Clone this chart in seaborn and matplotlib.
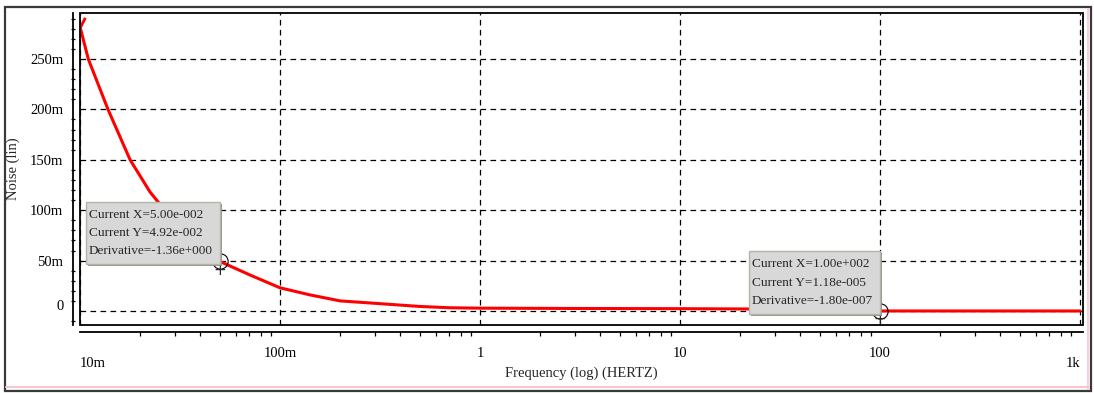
import matplotlib
matplotlib.use("Agg")
import matplotlib.pyplot as plt
import matplotlib.ticker as mticker
import matplotlib.transforms as mtransforms
import matplotlib.patheffects as pe
from matplotlib.patches import Rectangle
from matplotlib.lines import Line2D
from matplotlib.path import Path
import pandas as pd
import seaborn as sns

# Noise spectrum (linear units) against frequency in Hz
freq_hz = [0.01, 0.011, 0.0138, 0.0178, 0.0224, 0.033, 0.05, 0.0708, 0.1,
           0.141, 0.2, 0.28, 0.5, 0.708, 1.0, 3.0, 10.0, 22.0, 100.0, 1000.0]
noise_lin = [0.282, 0.250, 0.200, 0.150, 0.118, 0.077, 0.0492, 0.0357, 0.023,
             0.016, 0.010, 0.008, 0.0045, 0.0032, 0.0028, 0.0025, 0.0023,
             0.0020, 1.18e-5, 1.0e-6]

x_ticks = [0.01, 0.1, 1, 10, 100, 1000]
x_tick_labels = ["10m", "100m", "1", "10", "100", "1k"]
y_ticks = [0.0, 0.05, 0.10, 0.15, 0.20, 0.25]
y_tick_labels = ["0", "50m", "100m", "150m", "200m", "250m"]

# Cursor read-outs
cursor_x = [0.05, 100.0]
cursor_y = [0.0492, 1.18e-5]
cursor_deriv = [-1.36, -1.80e-7]

sns.set_style("white")
plt.rcParams["font.family"] = ["Liberation Serif", "DejaVu Serif"]

W, H = 1094, 393
fig = plt.figure(figsize=(W / 100, H / 100), dpi=100, facecolor="white")


def fx(px):
    return px / W


def fy(py):
    return 1 - py / H


# window frame
fig.add_artist(Rectangle((fx(5), fy(391)), fx(1091) - fx(5), fy(7) - fy(391),
                         transform=fig.transFigure, fill=False,
                         ec="#3a3a3a", lw=1.6))
fig.add_artist(Line2D([fx(6), fx(1089)], [fy(387), fy(387)],
                      transform=fig.transFigure, color="#f7c6cf", lw=1.5))
fig.add_artist(Line2D([fx(1087.5), fx(1087.5)], [fy(9), fy(389)],
                      transform=fig.transFigure, color="#f7c6cf", lw=1.2))

ax = fig.add_axes([fx(80), fy(325), fx(1083) - fx(80), fy(13) - fy(325)])
ax.set_facecolor("white")

df = pd.DataFrame({"freq": freq_hz, "noise": noise_lin})
sns.lineplot(data=df, x="freq", y="noise", ax=ax, color="#ff0000",
             lw=2.2, estimator=None, sort=False)

# start-of-trace marker
start_mark = Path([(0, 0), (0.5, 1)], [Path.MOVETO, Path.LINETO])
ax.plot(freq_hz[:1], noise_lin[:1], marker=start_mark, ms=14, mew=2.0,
        mec="#ff0000", mfc="none", ls="none", clip_on=False, zorder=4)

ax.set_xscale("log")
ax.set_xlim(0.01, 1035)
ax.set_ylim(-0.0139, 0.2956)

# plot box
ax.add_patch(Rectangle((0, 0), 1, 1, transform=ax.transAxes, fill=False,
                       ec="black", lw=1.3, clip_on=False, zorder=5))

for side in ("top", "right"):
    ax.spines[side].set_visible(False)
for side in ("left", "bottom"):
    ax.spines[side].set_visible(True)
    ax.spines[side].set_color("black")
    ax.spines[side].set_linewidth(1.3)
    ax.spines[side].set_position(("outward", 5))

ax.set_xticks(x_ticks, x_tick_labels)
ax.xaxis.set_minor_locator(mticker.LogLocator(base=10, subs=range(2, 10), numticks=20))
ax.xaxis.set_minor_formatter(mticker.NullFormatter())
ax.set_yticks(y_ticks, y_tick_labels)
ax.yaxis.set_minor_locator(mticker.MultipleLocator(0.01))

ax.tick_params(axis="y", which="major", direction="inout", length=6, width=0.9,
               pad=4, labelsize=10.5, colors="black")
ax.tick_params(axis="y", which="minor", direction="inout", length=2.8, width=0.9,
               colors="black", left=True)
ax.tick_params(axis="x", which="major", direction="out", length=6.5, width=0.9,
               pad=4, labelsize=10.5, colors="black")
ax.tick_params(axis="x", which="minor", direction="out", length=3, width=0.9,
               colors="black", bottom=True)

ax.grid(True, which="major", color="black", lw=0.9, ls=(0, (4.5, 3.5)))
ax.grid(False, which="minor")

ax.set_xlabel("Frequency (log) (HERTZ)", fontsize=10.5)
ax.xaxis.label.set_va("center")
ax.xaxis.set_label_coords(0.5, (325 - 373) / 312)
ax.set_ylabel("Noise (lin)", fontsize=10.5)
ax.yaxis.label.set_va("center")
ax.yaxis.set_label_coords((13 - 80) / 1003, 0.5)

# edge tick labels sit lower and inside the axis span
fig.canvas.draw()
xt = ax.xaxis.get_major_ticks()
down = mtransforms.ScaledTranslation(0, -0.10, fig.dpi_scale_trans)
xt[0].label1.set_horizontalalignment("left")
xt[0].label1.set_transform(xt[0].label1.get_transform() + down)
xt[-1].label1.set_horizontalalignment("right")
xt[-1].label1.set_transform(xt[-1].label1.get_transform() + down)
yt = ax.yaxis.get_major_ticks()
yt[0].label1.set_transform(yt[0].label1.get_transform()
                           + mtransforms.ScaledTranslation(0, 0.06, fig.dpi_scale_trans))


def sci3(v):
    mant, exp = f"{v:.2e}".split("e")
    sign = exp[0]
    return f"{mant}e{sign}{int(exp[1:]):03d}"


# cursor markers and read-out boxes
ax.plot(cursor_x, cursor_y, "o", mfc="none", mec="black", ms=11, mew=0.8,
        zorder=6, clip_on=False)
readouts = []
for cx, cy, cd in zip(cursor_x, cursor_y, cursor_deriv):
    ax.annotate("+", xy=(cx, cy), xytext=(0, -9), textcoords="offset pixels",
                ha="center", va="center", fontsize=11, family="DejaVu Sans",
                zorder=6)
    txt = (f"Current X={sci3(cx)}\nCurrent Y={sci3(cy)}\n"
           f"Derivative={sci3(cd)}")
    t = ax.annotate(txt, xy=(cx, cy), xytext=(-7, 4), textcoords="offset pixels",
                    ha="right", va="bottom", multialignment="left",
                    fontsize=9.5, linespacing=1.7, zorder=8)
    readouts.append(t)

# grey panels behind the read-outs, sized from the rendered text
renderer = fig.canvas.get_renderer()
inv = fig.transFigure.inverted()
for t in readouts:
    bb = t.get_window_extent(renderer)
    (x0, y0), (x1, y1) = inv.transform([(bb.x0 - 3, bb.y0 - 7),
                                        (bb.x1 + 7, bb.y1 + 7)])
    panel = Rectangle((x0, y0), x1 - x0, y1 - y0, transform=fig.transFigure,
                      fc="#d8d8d8", ec="#b4b4a8", lw=1.0, zorder=7)
    panel.set_path_effects([pe.withSimplePatchShadow(offset=(1.5, -1.5),
                                                     shadow_rgbFace="#8a8a80",
                                                     alpha=0.9)])
    ax.add_artist(panel)
    panel.set_clip_on(False)

fig.savefig("out.png", dpi=100, facecolor="white")
